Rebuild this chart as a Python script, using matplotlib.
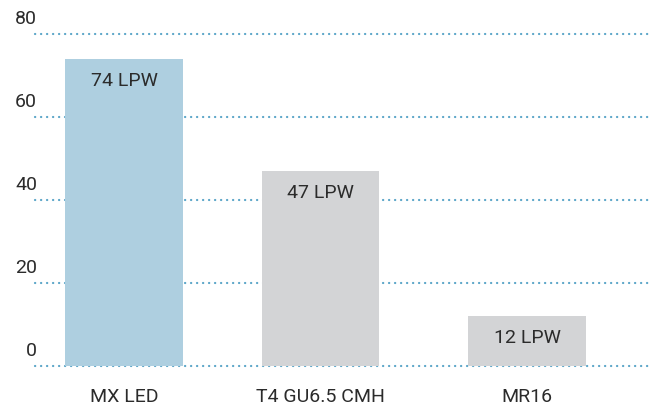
import matplotlib.pyplot as plt
from matplotlib import transforms

categories = ['MX LED', 'T4 GU6.5 CMH', 'MR16']
values = [74, 47, 12]
bar_labels = ['74 LPW', '47 LPW', '12 LPW']
y_ticks = [0, 20, 40, 60, 80]

plt.rcParams['font.family'] = ['Roboto', 'DejaVu Sans']

fig = plt.figure(figsize=(6.53, 4.10), dpi=100)
ax = fig.add_axes([35 / 653, 43 / 410, 618 / 653, 332 / 410])

colours = ['#aecfe0', '#d3d4d6', '#d3d4d6']
xpos = [0, 1, 2.053]
ax.bar(xpos, values, width=0.6, color=colours, zorder=2)

# dotted gridlines, one per tick
for t in y_ticks:
    ax.axhline(t, color='#5aa5c8', linewidth=1.6, linestyle=(0, (0.1, 2.6)),
               dash_capstyle='round', zorder=1, clip_on=False)

# tick labels sit above the lines, right aligned at the axis start
trans = transforms.blended_transform_factory(fig.transFigure, ax.transData)
offset = transforms.offset_copy(trans, fig=fig, x=0, y=16, units='dots')
for t in y_ticks:
    ax.text(37 / 653, t, str(t), transform=offset, ha='right', va='center',
            fontsize=14, color='#2b2b2b')

# value labels inside bar tops
for x, v, s in zip(xpos, values, bar_labels):
    ax.annotate(s, (x, v), xytext=(0, -21), textcoords='offset pixels',
                ha='center', va='center', fontsize=14, color='#2b2b2b', zorder=3)

ax.set_xticks(xpos)
ax.set_xticklabels(categories, fontsize=14, color='#2b2b2b')
ax.tick_params(axis='x', length=0, pad=15)
ax.set_yticks([])
ax.set_xlim(-0.453, 2.692)
ax.set_ylim(0, 80)
for sp in ax.spines.values():
    sp.set_visible(False)

plt.savefig('out.png', dpi=100)
